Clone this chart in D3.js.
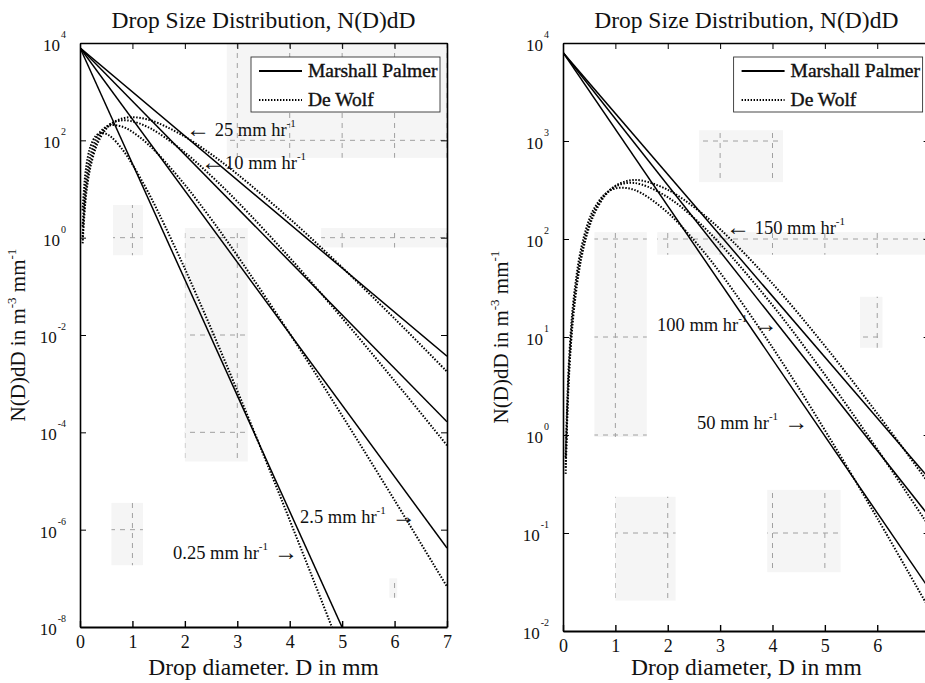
<!DOCTYPE html>
<html>
<head>
<meta charset="utf-8">
<script src="https://cdn.jsdelivr.net/npm/d3@7"></script>
<style>
  body { margin: 0; background: #fff; }
  text { font-family: "Liberation Serif", "Times New Roman", serif; fill: #111; }
</style>
</head>
<body>
<svg id="chart" width="925" height="683"></svg>
<script>
// Drop diameters (mm) at which the De Wolf curves are sampled
const diam = [0.05, 0.1, 0.15, 0.2, 0.3, 0.4, 0.5, 0.6, 0.8, 1, 1.25, 1.5, 2, 2.5, 3, 4, 5, 6, 7];
const diamLight = [0.05, 0.1, 0.15, 0.2, 0.3, 0.4, 0.5, 0.6, 0.8, 1, 1.25, 1.5, 2, 2.5, 3, 3.5, 4, 4.5, 5, 5.5];

// De Wolf N(D) in m^-3 mm^-1, one series per rain rate
const deWolf025 = [3.67, 19.7, 45.7, 75.0, 123, 142, 136, 116, 66.8, 31.9, 10.8, 3.22, 0.230, 1.36e-2, 7.16e-4, 3.46e-5, 1.57e-6, 6.84e-8, 2.87e-9, 1.17e-10];
const deWolf2p5 = [1.71, 10.4, 27.2, 50.3, 105, 155, 189, 205, 192, 149, 92.3, 50.7, 12.2, 2.43, 0.428, 1.07e-2, 2.20e-4, 4.02e-6, 6.76e-8];
const deWolf10  = [1.06, 6.77, 18.6, 36.3, 83.9, 137, 186, 224, 258, 246, 197, 140, 56.2, 18.7, 5.54, 0.387, 2.23e-2, 1.14e-3, 5.40e-5];
const deWolf25  = [0.765, 5.03, 14.2, 28.5, 69.6, 120, 172, 219, 281, 299, 275, 224, 119, 52.0, 20.2, 2.45, 0.245, 2.17e-2, 1.77e-3];
const deWolf50  = [0.597, 3.99, 11.5, 23.5, 59.4, 106, 158, 207, 287, 328, 329, 293, 186, 97.3, 45.3, 7.82, 1.12, 0.142, 1.66e-2];
const deWolf100 = [0.465, 3.16, 9.24, 19.2, 50.0, 92.5, 141, 192, 283, 344, 374, 360, 267, 164, 89.2, 21.1, 4.13, 0.718, 0.115];
const deWolf150 = [0.401, 2.75, 8.11, 16.9, 45.0, 84.6, 132, 182, 276, 348, 394, 395, 318, 212, 126, 35.1, 8.11, 1.66, 0.314];

// Marshall-Palmer exponentials: N(D) at the two ends of the diameter range
const mpDiam = [0, 7];
const mp025 = [8000, 1.69e-13];
const mp2p5 = [8000, 4.18e-7];
const mp10  = [8000, 1.65e-4];
const mp25  = [8000, 3.67e-3];
const mp50  = [8000, 2.65e-2];
const mp100 = [8000, 0.146];
const mp150 = [8000, 0.356];

// Axis ticks
const xTicks = [0, 1, 2, 3, 4, 5, 6, 7];
const xTickLabelsRight = [0, 1, 2, 3, 4, 5, 6];
const leftYTicks = [1e4, 1e2, 1e0, 1e-2, 1e-4, 1e-6, 1e-8];
const leftYExp = ["4", "2", "0", "-2", "-4", "-6", "-8"];
const rightYTicks = [1e4, 1e3, 1e2, 1e1, 1e0, 1e-1, 1e-2];
const rightYExp = ["4", "3", "2", "1", "0", "-1", "-2"];

const titleText = "Drop Size Distribution, N(D)dD";
const legendNames = ["Marshall Palmer", "De Wolf"];

const svg = d3.select("#chart");

const panels = [
  {
    id: "left",
    xRange: [80, 447], yRange: [627, 43], yDomain: [1e-8, 1e4],
    yTicks: leftYTicks, yExp: leftYExp, xLabels: xTicks,
    xLabel: "Drop diameter. D in mm",
    mp: [mp025, mp2p5, mp10, mp25],
    dw: [[diamLight, deWolf025], [diam, deWolf2p5], [diam, deWolf10], [diam, deWolf25]],
    notes: [
      { t: "25 mm hr", px: 186, py: 136, left: " " },
      { t: "10 mm hr", px: 201, py: 169, left: "" },
      { t: "2.5 mm hr", px: 300, py: 523, arrow: true },
      { t: "0.25 mm hr", px: 173, py: 559, arrow: true }
    ],
    // faint remnants of the dashed grid: [D0, D1, N0, N1]
    patches: [[2.8, 7, 10 ** 1.64, 1e4], [2.0, 3.2, 10 ** -4.6, 10 ** 0.2], [4.6, 7, 10 ** -0.2, 10 ** 0.2],
              [0.63, 1.2, 10 ** -0.36, 10 ** 0.67], [0.6, 1.2, 10 ** -6.73, 10 ** -5.45], [5.9, 6.05, 10 ** -7.4, 10 ** -7.0]]
  },
  {
    id: "right",
    xRange: [563, 929.6], yRange: [631, 43], yDomain: [1e-2, 1e4],
    yTicks: rightYTicks, yExp: rightYExp, xLabels: xTickLabelsRight,
    xLabel: "Drop diameter, D in mm",
    mp: [mp50, mp100, mp150],
    dw: [[diam, deWolf50], [diam, deWolf100], [diam, deWolf150]],
    notes: [
      { t: "150 mm hr", px: 726, py: 234, left: " " },
      { t: "100 mm hr", px: 657, py: 331, arrow: true },
      { t: "50 mm hr", px: 697, py: 429, arrow: true }
    ],
    patches: [[2.6, 4.2, 10 ** 2.58, 10 ** 3.11], [0.6, 1.6, 10 ** -0.02, 10 ** 2.07], [1.8, 7, 10 ** 1.84, 10 ** 2.07],
              [1.0, 2.15, 10 ** -1.69, 10 ** -0.63], [3.9, 5.3, 10 ** -1.4, 10 ** -0.56], [5.67, 6.1, 10 ** 0.89, 10 ** 1.41]]
  }
];

panels.forEach(p => {
  const x = d3.scaleLinear([0, 7], p.xRange);
  const y = d3.scaleLog(p.yDomain, p.yRange);
  const [x0, x1] = p.xRange;
  const [yb, yt] = p.yRange;
  const g = svg.append("g");

  const clipId = "clip-" + p.id;
  svg.append("clipPath").attr("id", clipId)
    .append("rect").attr("x", x0).attr("y", yt).attr("width", x1 - x0).attr("height", yb - yt);

  // faint grid remnants
  const pg = g.append("g");
  p.patches.forEach((r, i) => {
    const px0 = x(r[0]), px1 = x(r[1]), py0 = y(r[3]), py1 = y(r[2]);
    const pid = `patch-${p.id}-${i}`;
    svg.append("clipPath").attr("id", pid)
      .append("rect").attr("x", px0).attr("y", py0).attr("width", px1 - px0).attr("height", py1 - py0);
    pg.append("rect").attr("x", px0).attr("y", py0).attr("width", px1 - px0).attr("height", py1 - py0)
      .attr("fill", "#f5f5f5");
    const gl = pg.append("g").attr("clip-path", `url(#${pid})`)
      .attr("stroke", "#a0a0a0").attr("stroke-width", 1).attr("stroke-dasharray", "5,5");
    xTicks.forEach(t => gl.append("line").attr("x1", x(t)).attr("x2", x(t)).attr("y1", yt).attr("y2", yb));
    p.yTicks.forEach(t => gl.append("line").attr("y1", y(t)).attr("y2", y(t)).attr("x1", x0).attr("x2", x1));
  });

  // curves
  const plot = g.append("g").attr("clip-path", `url(#${clipId})`);
  const lineMP = d3.line().x(d => x(d[0])).y(d => y(d[1]));
  p.mp.forEach(vals => {
    plot.append("path").datum(d3.zip(mpDiam, vals)).attr("d", lineMP)
      .attr("fill", "none").attr("stroke", "#000").attr("stroke-width", 1.5);
  });
  const lineDW = d3.line().x(d => x(d[0])).y(d => y(d[1])).curve(d3.curveCatmullRom.alpha(0.5));
  p.dw.forEach(([ds, vals]) => {
    plot.append("path").datum(d3.zip(ds, vals)).attr("d", lineDW)
      .attr("fill", "none").attr("stroke", "#000").attr("stroke-width", 2)
      .attr("stroke-dasharray", "1.5,1.6");
  });

  // axes with inward ticks on all four sides
  const axes = g.append("g");
  axes.append("g").attr("transform", `translate(0,${yb})`)
    .call(d3.axisBottom(x).tickValues(xTicks).tickSize(-6).tickSizeOuter(0).tickPadding(8)
      .tickFormat(d => p.xLabels.includes(d) ? d3.format("d")(d) : ""))
    .call(a => a.select(".domain").attr("stroke-width", 2))
    .call(a => a.selectAll(".tick line").attr("stroke-width", 1.4))
    .call(a => a.selectAll("text").attr("font-size", 18).attr("fill", "#111"));
  axes.append("g").attr("transform", `translate(0,${yt})`)
    .call(d3.axisTop(x).tickValues(xTicks).tickSize(-6).tickSizeOuter(0).tickFormat(""))
    .call(a => a.select(".domain").attr("stroke-width", 1.6));
  axes.append("g").attr("transform", `translate(${x0},0)`)
    .call(d3.axisLeft(y).tickValues(p.yTicks).tickSize(-6).tickSizeOuter(0).tickPadding(15).tickFormat(() => "10"))
    .call(a => a.select(".domain").attr("stroke-width", 1.6))
    .call(a => a.selectAll("text")
      .attr("font-size", 17).attr("fill", "#111").attr("dy", "0.45em")
      .each(function (d, i) {
        d3.select(this).append("tspan").attr("font-size", 10).attr("dy", "-1.3em").attr("dx", "1").text(p.yExp[i]);
      }))
    .call(a => a.selectAll("text").attr("text-anchor", "start")
      .attr("x", function () { return -15 - this.getComputedTextLength(); }));
  axes.append("g").attr("transform", `translate(${x1},0)`)
    .call(d3.axisRight(y).tickValues(p.yTicks).tickSize(-6).tickSizeOuter(0).tickFormat(""))
    .call(a => a.select(".domain").attr("stroke-width", 1.6));

  // titles
  const cx = (x0 + x1) / 2;
  g.append("text").attr("x", cx).attr("y", 28).attr("text-anchor", "middle")
    .attr("font-size", 23.5).text(titleText);
  g.append("text").attr("x", cx).attr("y", 675).attr("text-anchor", "middle")
    .attr("font-size", 23.5).text(p.xLabel);
  const ylab = g.append("text").attr("text-anchor", "middle").attr("font-size", 21)
    .attr("transform", `translate(${x0 - 55},${(yt + yb) / 2}) rotate(-90)`);
  ylab.append("tspan").text("N(D)dD in m");
  ylab.append("tspan").attr("font-size", 13).attr("dy", -9).text("-3");
  ylab.append("tspan").attr("dy", 9).text(" mm");
  ylab.append("tspan").attr("font-size", 13).attr("dy", -9).text("-1");

  // legend
  const lx = x1 - 196, ly = 57;
  const lg = g.append("g");
  lg.append("rect").attr("x", lx).attr("y", ly).attr("width", 189).attr("height", 55)
    .attr("fill", "#fff").attr("stroke", "#333").attr("stroke-width", 0.9);
  legendNames.forEach((name, i) => {
    const yy = ly + 14 + i * 29;
    lg.append("line").attr("x1", lx + 8).attr("x2", lx + 51).attr("y1", yy).attr("y2", yy)
      .attr("stroke", "#000").attr("stroke-width", i === 0 ? 2 : 1.8)
      .attr("stroke-dasharray", i === 0 ? null : "1.4,1.6");
    lg.append("text").attr("x", lx + 57).attr("y", yy + 6).attr("font-size", 19.5)
      .attr("stroke", "#111").attr("stroke-width", 0.4).text(name);
  });

  // rain-rate annotations with pointer arrows
  p.notes.forEach(n => {
    const t = g.append("text").attr("x", n.px).attr("y", n.py).attr("font-size", 18.5);
    if (n.left !== undefined) {
      t.append("tspan").attr("font-size", 24).attr("dy", 1).text("\u2190");
      t.append("tspan").attr("dy", -1).text(n.left + n.t);
    } else {
      t.append("tspan").text(n.t);
    }
    t.append("tspan").attr("font-size", 11).attr("dy", -9).text("-1");
    if (n.arrow) t.append("tspan").attr("font-size", 24).attr("dy", 10).text(" \u2192");
  });
});
</script>
</body>
</html>
